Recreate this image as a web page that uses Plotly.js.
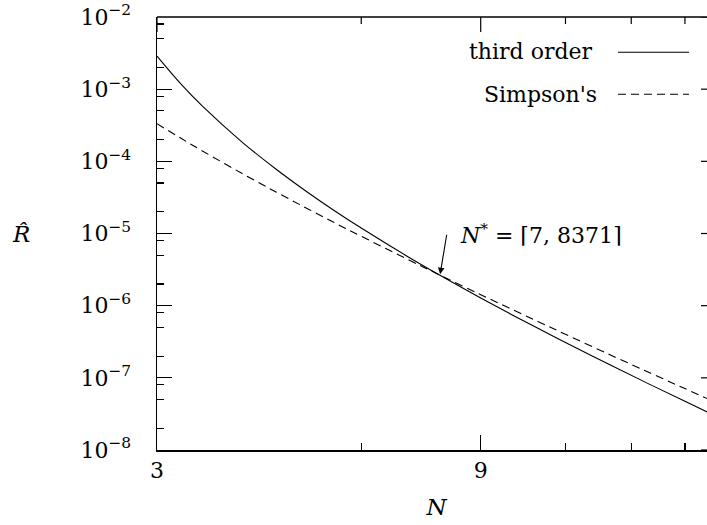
<!DOCTYPE html>
<html>
<head>
<meta charset="utf-8">
<script src="https://cdn.plot.ly/plotly-3.0.1.min.js"></script>
<style>
html, body { margin: 0; padding: 0; overflow: hidden; background: #fff; }
#chart { width: 740px; height: 525px; }
</style>
</head>
<body>
<div id="chart"></div>
<script>
// Number of points N
const N = [3, 3.25, 3.5, 4, 4.5, 5, 5.5, 6, 7, 7.8371, 9, 10, 11, 12, 14, 16, 18, 20];
// third order error
const thirdOrder = [2.862e-3, 1.192e-3, 5.81e-4, 1.865e-4, 7.70e-5, 3.73e-5, 2.02e-5, 1.19e-5,
  4.89e-6, 2.64e-6, 1.28e-6, 7.51e-7, 4.70e-7, 3.08e-7, 1.49e-7, 8.05e-8, 4.72e-8, 2.95e-8];
// Simpson's error
const simpsons = [3.32e-4, 2.10e-4, 1.393e-4, 6.83e-5, 3.73e-5, 2.21e-5, 1.386e-5, 9.15e-6,
  4.45e-6, 2.65e-6, 1.42e-6, 8.91e-7, 5.86e-7, 4.01e-7, 2.06e-7, 1.167e-7, 7.09e-8, 4.55e-8];

const xMajor = [3, 9];
const xMajorText = ['3', '9'];
const xMinor = [6, 12, 15, 18];
const yMajor = [1e-8, 1e-7, 1e-6, 1e-5, 1e-4, 1e-3, 1e-2];
const yMajorText = ['10<sup>−8</sup>', '10<sup>−7</sup>', '10<sup>−6</sup>', '10<sup>−5</sup>',
  '10<sup>−4</sup>', '10<sup>−3</sup>', '10<sup>−2</sup>'];
const yMinor = [];
for (const d of [1e-8, 1e-7, 1e-6, 1e-5, 1e-4, 1e-3]) { for (const m of [2, 5, 8]) yMinor.push(m * d); }

const crossN = 7.8371;
const crossR = 2.64e-6;
const seriesNames = ['third order', "Simpson's"];

const FONT = 'DejaVu Serif';
const W = 740, H = 525;
const M = { l: 157, r: 24, t: 17, b: 75 };
const PW = W - M.l - M.r, PH = H - M.t - M.b;
const px = x => (x - M.l) / PW;
const py = y => (H - M.b - y) / PH;
const XR = [Math.log10(3), Math.log10(20)];
const YR = [-8, -2];
const MAJ = 15, MIN = 7;
// pixel length -> decades along each axis
const dX = len => len * (XR[1] - XR[0]) / PW;
const dY = len => len * (YR[1] - YR[0]) / PH;

// mirrored ticks on the top and right sides, drawn through the axes' own scales
const topX = [], topY = [];
function addTop(v, len) { topX.push(v, v, null); topY.push(Math.pow(10, YR[1]), Math.pow(10, YR[1] - dY(len)), null); }
xMajor.forEach(v => addTop(v, MAJ));
xMinor.forEach(v => addTop(v, MIN));
const rightX = [], rightY = [];
function addRight(v, len) { rightX.push(Math.pow(10, XR[1]), Math.pow(10, XR[1] - dX(len)), null); rightY.push(v, v, null); }
yMajor.forEach(v => addRight(v, MAJ));
yMinor.forEach(v => addRight(v, MIN));

const traces = [
  { x: N, y: thirdOrder, mode: 'lines', name: seriesNames[0],
    line: { color: '#000', width: 1.1, shape: 'spline' }, showlegend: false },
  { x: N, y: simpsons, mode: 'lines', name: seriesNames[1],
    line: { color: '#000', width: 1.1, dash: '8px,5px', shape: 'spline' }, showlegend: false },
  { x: topX, y: topY, mode: 'lines', line: { color: '#000', width: 1.2 }, connectgaps: false,
    showlegend: false, hoverinfo: 'skip', cliponaxis: false },
  { x: rightX, y: rightY, mode: 'lines', line: { color: '#000', width: 1.2 }, connectgaps: false,
    showlegend: false, hoverinfo: 'skip', cliponaxis: false }
];

function axisBase(range, major, minor) {
  return {
    type: 'log', range: range,
    tickmode: 'array', tickvals: major,
    ticks: 'inside', ticklen: MAJ, tickwidth: 1.2, tickcolor: '#000',
    minor: { tickmode: 'array', tickvals: minor, ticks: 'inside', ticklen: MIN, tickwidth: 1.2, tickcolor: '#000', showgrid: false },
    showline: true, linecolor: '#000', linewidth: 1.5,
    showgrid: false, zeroline: false
  };
}

const xaxis = Object.assign(axisBase(XR, xMajor, xMinor), {
  ticktext: xMajorText,
  tickfont: { family: FONT, size: 22 },
  ticklabelstandoff: 0, ticklabeloverflow: 'allow',
  title: { text: '<i>N</i>', font: { family: FONT, size: 23 }, standoff: 17 }
});
const yaxis = Object.assign(axisBase(YR, yMajor, yMinor), {
  ticktext: yMajorText,
  tickfont: { family: FONT, size: 22 },
  ticklabelstandoff: 20, ticklabeloverflow: 'allow'
});

const shapes = [
  // frame: top and right sides
  { type: 'line', xref: 'paper', yref: 'paper', x0: 0, x1: 1, y0: 1, y1: 1, line: { color: '#000', width: 1.5 } },
  { type: 'line', xref: 'paper', yref: 'paper', x0: 1, x1: 1, y0: 0, y1: 1, line: { color: '#000', width: 1.5 } },
  // legend samples
  { type: 'line', xref: 'paper', yref: 'paper', x0: px(618), x1: px(689), y0: py(52.3), y1: py(52.3),
    line: { color: '#000', width: 1.1 } },
  { type: 'line', xref: 'paper', yref: 'paper', x0: px(618), x1: px(689), y0: py(94.3), y1: py(94.3),
    line: { color: '#000', width: 1.1, dash: '8px,5px' } }
];

const layout = {
  width: W, height: H,
  margin: M,
  paper_bgcolor: '#fff', plot_bgcolor: '#fff',
  font: { family: FONT, size: 22, color: '#000' },
  showlegend: false,
  xaxis: xaxis, yaxis: yaxis,
  shapes: shapes,
  annotations: [
    { xref: 'paper', yref: 'paper', x: px(595), y: py(52), xanchor: 'right', yanchor: 'middle',
      text: seriesNames[0], showarrow: false, font: { family: FONT, size: 22 } },
    { xref: 'paper', yref: 'paper', x: px(599), y: py(94), xanchor: 'right', yanchor: 'middle',
      text: seriesNames[1], showarrow: false, font: { family: FONT, size: 22 } },
    { xref: 'paper', yref: 'paper', x: px(21), y: py(234), xanchor: 'center', yanchor: 'middle',
      text: '<i>R̂</i>', showarrow: false, font: { family: FONT, size: 23 } },
    { xref: 'x', yref: 'y', x: Math.log10(crossN), y: Math.log10(crossR),
      text: '', showarrow: true, arrowhead: 2, arrowsize: 1.2, arrowwidth: 1.1, arrowcolor: '#000',
      ax: 7, ay: -42, standoff: 1 },
    { xref: 'x', yref: 'y', x: Math.log10(crossN), y: Math.log10(crossR),
      text: '<i>N</i><sup>*</sup> = ⌈7, 8371⌉', showarrow: true, arrowwidth: 0.01, arrowcolor: 'rgba(0,0,0,0)',
      ax: 101, ay: -41, xanchor: 'center', yanchor: 'middle', font: { family: FONT, size: 22 } }
  ]
};

Plotly.newPlot('chart', traces, layout, { displayModeBar: false, staticPlot: true });
</script>
</body>
</html>
